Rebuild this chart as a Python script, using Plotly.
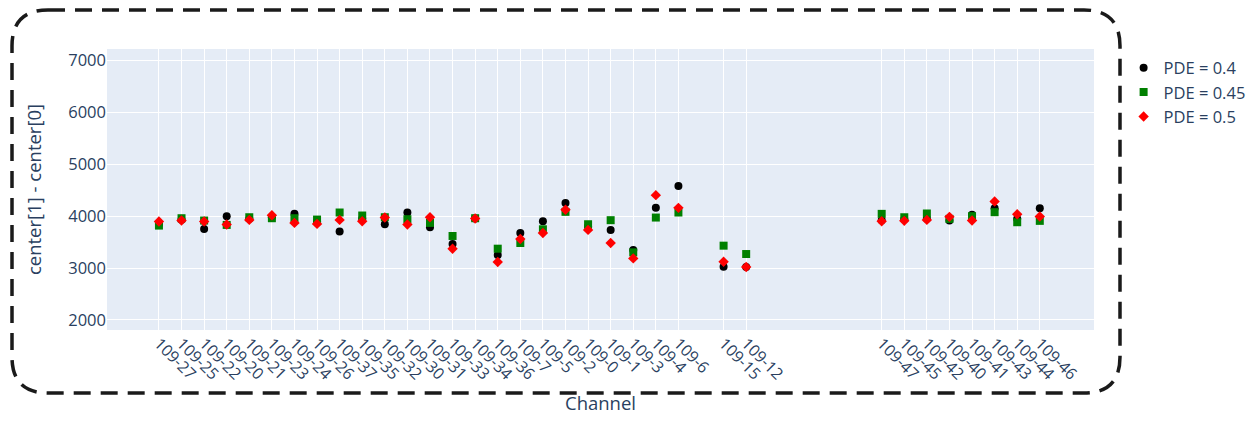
import plotly.graph_objects as go

# Channel slots along the x axis (None = empty slot)
channels = ["109-27", "109-25", "109-22", "109-20", "109-21", "109-23", "109-24", "109-26",
            "109-37", "109-35", "109-32", "109-30", "109-31", "109-33", "109-34", "109-36",
            "109-7", "109-5", "109-2", "109-0", "109-1", "109-3", "109-4", "109-6",
            None, "109-15", "109-12",
            None, None, None, None, None,
            "109-47", "109-45", "109-42", "109-40", "109-41", "109-43", "109-44", "109-46"]

pde_04 = [3850, 3930, 3755, 4000, 3950, 3980, 4045, 3900,
          3703, 3950, 3845, 4071, 3787, 3465, 3955, 3252,
          3677, 3903, 4252, 3800, 3736, 3349, 4161, 4581,
          None, 3026, 3020,
          None, None, None, None, None,
          3920, 3940, 3950, 3916, 4026, 4155, 3950, 4155]

pde_045 = [3819, 3961, 3916, 3832, 3980, 3961, 3961, 3935,
           4071, 4013, 3980, 3942, 3871, 3619, 3961, 3374,
           3484, 3748, 4084, 3845, 3923, 3303, 3974, 4071,
           None, 3432, 3271,
           None, None, None, None, None,
           4045, 3980, 4052, 3948, 4000, 4077, 3884, 3910]

pde_05 = [3897, 3916, 3897, 3839, 3929, 4019, 3871, 3852,
          3929, 3903, 3974, 3839, 3980, 3374, 3955, 3116,
          3561, 3677, 4123, 3736, 3484, 3187, 4406, 4161,
          None, 3123, 3020,
          None, None, None, None, None,
          3903, 3910, 3929, 3987, 3916, 4284, 4039, 3994]

series = [("PDE = 0.4", pde_04, "black", "circle"),
          ("PDE = 0.45", pde_045, "green", "square"),
          ("PDE = 0.5", pde_05, "red", "diamond")]

idx = [i for i, c in enumerate(channels) if c is not None]
labels = [channels[i] for i in idx]

fig = go.Figure()
for name, vals, color, sym in series:
    fig.add_trace(go.Scatter(
        x=idx, y=[vals[i] for i in idx], mode="markers", name=name,
        marker=dict(color=color, symbol=sym, size=8),
    ))

W, H = 1242, 407
L, R, T, B = 99, 156, 41, 85
pw, ph = W - L - R, H - T - B


def px2p(x, y):
    return (x - L) / pw, (H - B - y) / ph


def rounded_path(x0, y0, x1, y1, r):
    def P(x, y):
        a, b = px2p(x, y)
        return f"{a:.5f},{b:.5f}"
    d = f"M {P(x0 + r, y0)} L {P(x1 - r, y0)} Q {P(x1, y0)} {P(x1, y0 + r)} "
    d += f"L {P(x1, y1 - r)} Q {P(x1, y1)} {P(x1 - r, y1)} "
    d += f"L {P(x0 + r, y1)} Q {P(x0, y1)} {P(x0, y1 - r)} "
    d += f"L {P(x0, y0 + r)} Q {P(x0, y0)} {P(x0 + r, y0)} Z"
    return d


fig.add_shape(type="path", xref="paper", yref="paper",
              path=rounded_path(4, 2, 1112, 385, 36),
              line=dict(color="#1a1a1a", width=3.5, dash="17px,10px"))

fig.update_layout(
    width=W, height=H,
    margin=dict(l=L, r=R, t=T, b=B, autoexpand=False),
    font=dict(family="Open Sans, sans-serif", size=16, color="#2a3f5f"),
    template="plotly",
    legend=dict(font=dict(size=16.5), x=1.03, y=0.995, yanchor="top", tracegroupgap=0),
    showlegend=True,
)
fig.update_xaxes(
    title=dict(text="Channel", font=dict(size=18.5), standoff=26),
    tickmode="array", tickvals=idx, ticktext=labels, tickangle=45,
    tickfont=dict(size=16),
    range=[-2.3, 41.4], zeroline=False, automargin=False,
)
fig.update_yaxes(
    title=dict(text="center[1] - center[0]", font=dict(size=18.5), standoff=21),
    tickfont=dict(size=16.5),
    range=[1807, 7222], tickvals=[2000, 3000, 4000, 5000, 6000, 7000], zeroline=False,
    automargin=False,
)

fig.write_html("out.html")
